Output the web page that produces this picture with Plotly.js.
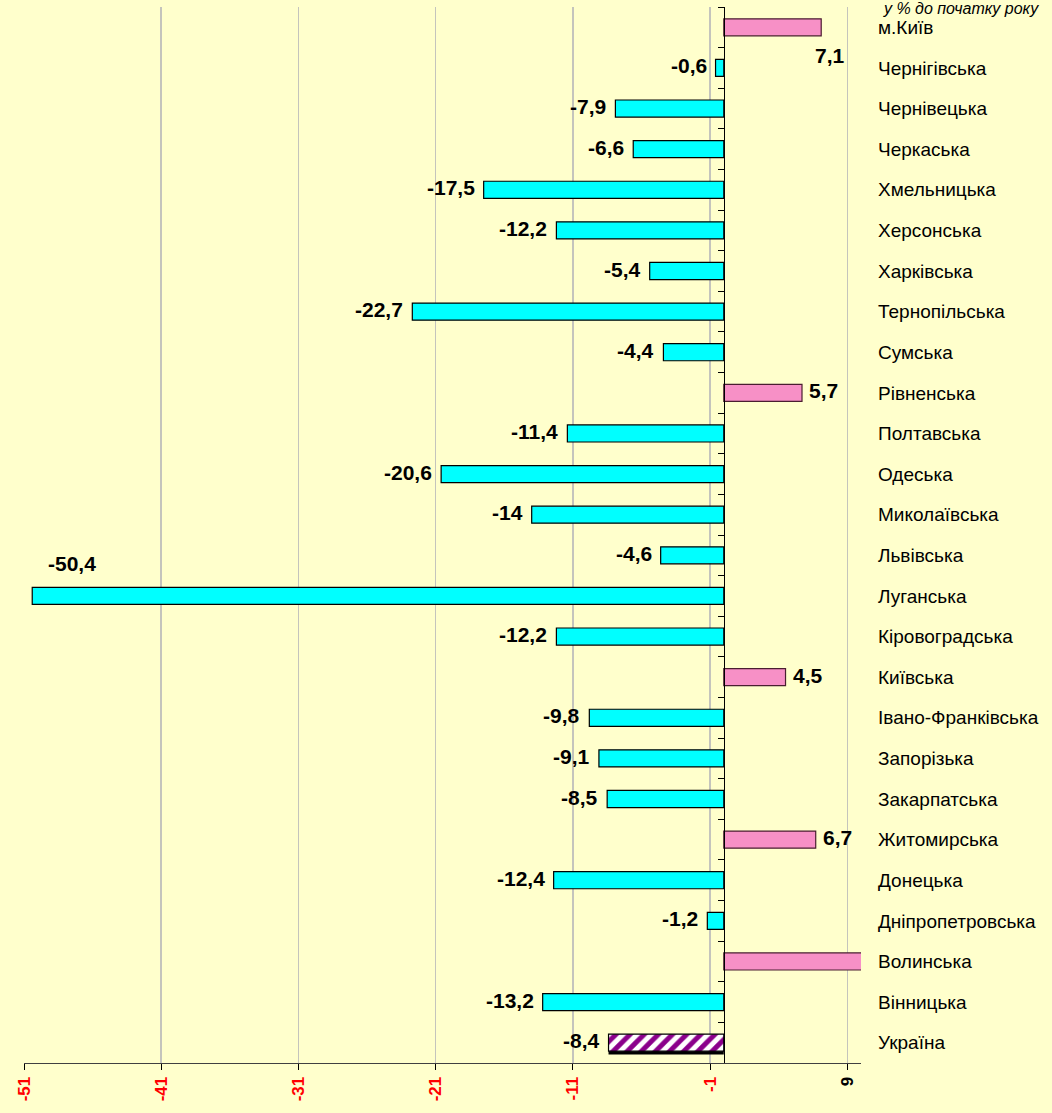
<!DOCTYPE html>
<html>
<head>
<meta charset="utf-8">
<script src="https://cdn.plot.ly/plotly-3.0.1.min.js"></script>
<style>
html,body{margin:0;padding:0;background:#FFFFCC;}
#chart{width:1052px;height:1113px;}
</style>
</head>
<body>
<div id="chart"></div>
<script>
// Categories, top to bottom as in the chart
const regions = [
  "м.Київ","Чернігівська","Чернівецька","Черкаська","Хмельницька","Херсонська",
  "Харківська","Тернопільська","Сумська","Рівненська","Полтавська","Одеська",
  "Миколаївська","Львівська","Луганська","Кіровоградська","Київська",
  "Івано-Франківська","Запорізька","Закарпатська","Житомирська","Донецька",
  "Дніпропетровська","Волинська","Вінницька","Україна"
];
// Change, % to the beginning of the year
const values = [
  7.1, -0.6, -7.9, -6.6, -17.5, -12.2,
  -5.4, -22.7, -4.4, 5.7, -11.4, -20.6,
  -14, -4.6, -50.4, -12.2, 4.5,
  -9.8, -9.1, -8.5, 6.7, -12.4,
  -1.2, 10.3, -13.2, -8.4
];
const totalName = "Україна";
const xTickVals = [-51, -41, -31, -21, -11, -1, 9];
const xTickLabels = ["-51", "-41", "-31", "-21", "-11", "-1", "9"];
const xRange = [-51, 10];
const unitTitle = "у % до початку року";

const fmt = v => String(v).replace('.', ',');
const CYAN = '#00FFFF', PINK = '#F790C6', PURPLE = '#8B008B';
const FONT = 'Liberation Sans, Arial, sans-serif';
const BAR_W = 0.42;

const colors = regions.map((r, i) => r === totalName ? PURPLE : (values[i] < 0 ? CYAN : PINK));
const lineColors = regions.map((r, i) => r === totalName ? '#000000' : (values[i] < 0 ? '#000000' : '#4A1E30'));
const shapes = regions.map(r => r === totalName ? '/' : '');

// shadow under the total bar
const totalIdx = regions.indexOf(totalName);
const shadowTrace = {
  type: 'bar', orientation: 'h',
  x: [values[totalIdx]], y: [totalName],
  width: BAR_W, offset: -BAR_W / 2 + 0.08,
  marker: {color: '#000000', line: {width: 0}},
  hoverinfo: 'skip', showlegend: false
};

const barTrace = {
  type: 'bar', orientation: 'h',
  x: values, y: regions,
  width: BAR_W,
  marker: {
    color: colors,
    line: {color: lineColors, width: 1.2},
    pattern: {shape: shapes, fillmode: 'overlay', fgcolor: '#FFFFFF', bgcolor: PURPLE,
              fgopacity: 1, size: 10, solidity: 0.5}
  },
  hoverinfo: 'x+y',
  cliponaxis: true,
  showlegend: false
};

// invisible trace so the zero-crossing category axis is drawn
const axisTrace = {
  type: 'scatter', mode: 'markers', x: regions.map(() => 0), y: regions,
  yaxis: 'y2', marker: {opacity: 0, size: 1}, hoverinfo: 'skip', showlegend: false
};

// value labels
const labelOverrides = {
  "м.Київ": {xanchor: 'left', xshift: -8, yshift: -28},
  "Луганська": {xanchor: 'left', xshift: 14, yshift: 32}
};
const annotations = [];
regions.forEach((r, i) => {
  const v = values[i];
  if (v > xRange[1] || v < xRange[0]) return;
  const o = labelOverrides[r] || {};
  annotations.push({
    x: v, y: r, xref: 'x', yref: 'y',
    text: fmt(v), showarrow: false,
    xanchor: o.xanchor || (v < 0 ? 'right' : 'left'),
    yanchor: 'middle',
    xshift: o.xshift !== undefined ? o.xshift : (v < 0 ? -7 : 5),
    yshift: o.yshift !== undefined ? o.yshift : 2,
    font: {family: FONT, size: 21, color: '#000000', weight: 'bold'}
  });
});
annotations.push({
  xref: 'paper', yref: 'paper', x: 1.12, y: 1, yshift: 9,
  xanchor: 'center', yanchor: 'top', showarrow: false,
  text: '<i>' + unitTitle + '</i>',
  font: {family: FONT, size: 16, color: '#000000'}
});

const tickText = xTickLabels.map((t, i) =>
  '<span style="color:' + (xTickVals[i] > 0 ? '#000000' : '#FF0000') + '">' + t + '</span>');

const zeroPos = (0 - xRange[0]) / (xRange[1] - xRange[0]);
const yRange = [regions.length - 0.5, -0.5];

const layout = {
  width: 1052, height: 1113,
  margin: {l: 24, r: 191, t: 7, b: 50},
  paper_bgcolor: '#FFFFCC', plot_bgcolor: '#FFFFCC',
  showlegend: false,
  barmode: 'overlay',
  xaxis: {
    range: xRange, tickmode: 'array', tickvals: xTickVals, ticktext: tickText,
    tickangle: -90, ticks: 'outside', ticklen: 6, tickcolor: '#000000',
    showline: true, linecolor: '#404040', linewidth: 1,
    showgrid: true, gridcolor: '#C4C4BC', gridwidth: 1.5,
    zeroline: false, fixedrange: true,
    tickfont: {family: FONT, size: 17, color: '#FF0000', weight: 'bold'}
  },
  yaxis: {
    type: 'category', categoryorder: 'array', categoryarray: regions,
    range: yRange, autorange: false, side: 'right',
    showline: false, ticks: '', showgrid: false, zeroline: false,
    ticklabelstandoff: 16,
    tickfont: {family: FONT, size: 19, color: '#000000'}
  },
  yaxis2: {
    type: 'category', categoryorder: 'array', categoryarray: regions,
    overlaying: 'y', matches: 'y', anchor: 'free', position: zeroPos, side: 'left',
    showline: true, linecolor: '#000000', linewidth: 1.5,
    ticks: 'outside', ticklen: 6, tickcolor: '#000000', tickson: 'boundaries',
    showticklabels: false, showgrid: false, zeroline: false
  },
  annotations: annotations
};

Plotly.newPlot('chart', [shadowTrace, barTrace, axisTrace], layout, {displayModeBar: false, staticPlot: true});
</script>
</body>
</html>
